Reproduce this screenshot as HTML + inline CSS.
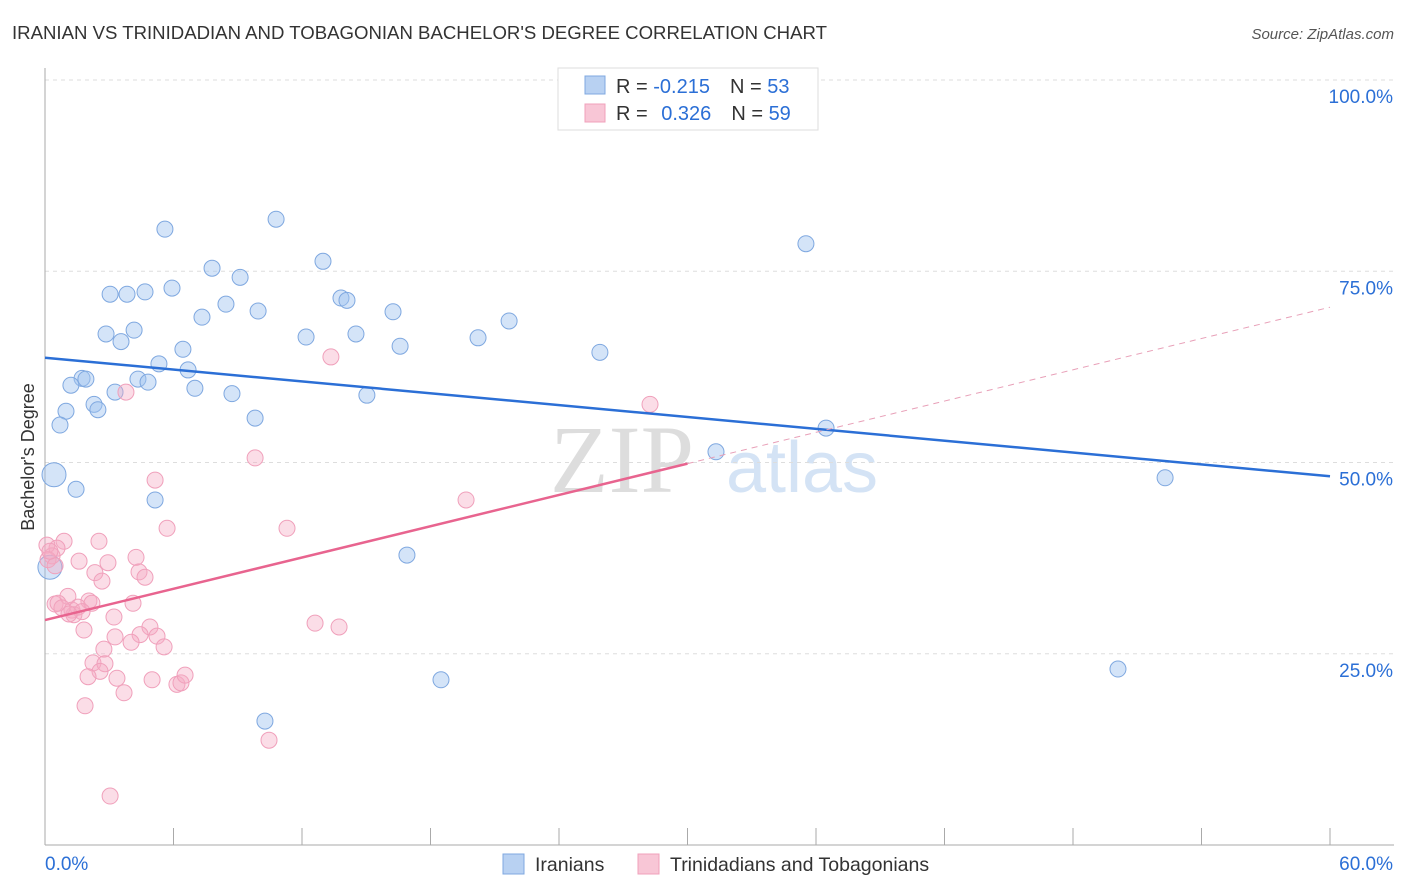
<!DOCTYPE html>
<html><head><meta charset="utf-8"><style>
body{margin:0;background:#fff;font-family:"Liberation Sans",sans-serif;}
svg{display:block}
</style></head><body>
<svg id="chart" width="1406" height="892">
<text x="12" y="39" font-size="18.6" fill="#333">IRANIAN VS TRINIDADIAN AND TOBAGONIAN BACHELOR'S DEGREE CORRELATION CHART</text>
<text x="1394" y="39" font-size="15" fill="#555" font-style="italic" text-anchor="end">Source: ZipAtlas.com</text>
<text x="622" y="492" font-size="96" fill="#ddd" font-family="Liberation Serif,serif" text-anchor="middle">ZIP</text>
<text x="802" y="492" font-size="72" fill="#d4e3f5" text-anchor="middle">atlas</text>
<text transform="translate(34,457) rotate(-90)" font-size="18" fill="#333" text-anchor="middle">Bachelor's Degree</text>
<g id="grid"></g><g id="marks"></g>
<g>
<rect x="558" y="68" width="260" height="62" fill="#fff" stroke="#ddd"/>
<rect x="585" y="76" width="20" height="18" fill="#b8d1f2" stroke="#7fa8e0"/>
<rect x="585" y="104" width="20" height="18" fill="#f8c6d6" stroke="#f0a0bb"/>
<text x="616" y="93" font-size="20" fill="#333">R = <tspan fill="#2b6fd6">-0.215</tspan><tspan dx="20">N = </tspan><tspan fill="#2b6fd6">53</tspan></text>
<text x="616" y="120" font-size="20" fill="#333">R = <tspan fill="#2b6fd6" dx="8">0.326</tspan><tspan dx="20">N = </tspan><tspan fill="#2b6fd6">59</tspan></text>
</g>
<g>
<rect x="503" y="854" width="21" height="20" fill="#b8d1f2" stroke="#7fa8e0"/>
<text x="535" y="871" font-size="19.5" fill="#333">Iranians</text>
<rect x="638" y="854" width="21" height="20" fill="#f8c6d6" stroke="#f0a0bb"/>
<text x="670" y="871" font-size="19.5" fill="#333">Trinidadians and Tobagonians</text>
</g>
</svg>
<script>
const yTicks=[25,50,75,100];
const xTickLabels=["0.0%","60.0%"];
const blueX=[5.60,10.79,35.53,7.80,9.11,12.98,3.04,3.83,4.67,5.93,8.45,7.33,9.95,13.82,14.10,16.25,21.67,2.85,4.16,3.55,12.19,14.52,16.58,20.22,25.91,6.44,5.32,6.68,1.73,1.91,1.21,4.34,4.81,3.27,7.00,8.73,15.03,2.29,2.47,0.98,0.70,9.81,36.47,31.33,0.42,52.30,1.45,5.14,16.90,0.23,18.49,50.10,10.27];
const blueY=[80.5,81.8,78.6,75.4,74.2,76.3,72.0,72.0,72.3,72.8,70.7,69.0,69.8,71.5,71.2,69.7,68.5,66.8,67.3,65.8,66.4,66.8,65.2,66.3,64.4,64.8,62.9,62.1,61.0,60.9,60.1,60.9,60.5,59.2,59.7,59.0,58.8,57.6,56.9,56.7,54.9,55.8,54.5,51.4,48.4,48.0,46.5,45.1,37.9,36.3,21.6,23.0,16.2];
const pinkX=[28.25,3.78,13.35,9.81,5.14,19.66,5.70,11.30,2.52,0.89,0.56,0.09,0.33,0.14,0.47,1.59,4.25,2.94,2.33,2.66,4.39,4.67,0.47,1.07,1.26,2.05,1.54,2.19,1.35,1.73,4.11,3.22,12.61,13.73,4.90,4.44,3.27,5.23,4.02,5.56,2.75,1.82,2.24,2.80,2.57,2.01,3.36,5.00,6.16,6.35,6.54,3.69,1.87,10.46,3.04,0.61,0.79,1.12,0.23];
const pinkY=[57.6,59.2,63.8,50.6,47.7,45.1,41.4,41.4,39.7,39.7,38.8,39.2,37.8,37.3,36.5,37.1,37.6,36.9,35.6,34.5,35.7,35.0,31.5,32.5,30.7,31.9,31.1,31.6,30.1,30.5,31.6,29.8,29.0,28.5,28.5,27.5,27.2,27.3,26.5,25.9,25.6,28.1,23.8,23.7,22.7,22.0,21.8,21.6,21.0,21.2,22.2,19.9,18.2,13.7,6.4,31.6,31.0,30.2,38.4];
const blueTrend=[63.7,48.2];
const pinkTrend=[29.4,70.3];
const pinkSolidEnd=30;
const X=v=>45+v/60*1285, Y=v=>845-v*7.65;
const NS="http://www.w3.org/2000/svg";
const grid=document.getElementById('grid'), marks=document.getElementById('marks');
function mk(tag,attrs,parent){const e=document.createElementNS(NS,tag);for(const k in attrs)e.setAttribute(k,attrs[k]);parent.appendChild(e);return e;}
yTicks.forEach(t=>{
 const l=mk('line',{x1:45,x2:1394,y1:Y(t),y2:Y(t),stroke:'#ddd','stroke-dasharray':'4,4'},grid);
 
 
 const tx=mk('text',{x:1393,y:Y(t)+23,'font-size':19,fill:'#2b6fd6','text-anchor':'end'},grid);
 tx.textContent=t.toFixed(1)+'%';
 
 
});
mk('line',{x1:45,x2:45,y1:68,y2:845,stroke:'#aaa'},grid);
mk('line',{x1:45,x2:1394,y1:845,y2:845,stroke:'#aaa'},grid);
for(let i=0;i<=10;i++){mk('line',{x1:X(i*6),x2:X(i*6),y1:828,y2:845,stroke:'#aaa'},grid);}
const xl0=mk('text',{x:45,y:870,'font-size':19,fill:'#2b6fd6'},grid);xl0.textContent=xTickLabels[0];


const xl1=mk('text',{x:1393,y:870,'font-size':19,fill:'#2b6fd6','text-anchor':'end'},grid);xl1.textContent=xTickLabels[1];


blueX.forEach((v,i)=>{const big=(i==44||i==49);
 const c=mk('circle',{cx:X(v),cy:Y(blueY[i]),r:big?12:8,fill:'rgba(160,195,240,0.45)',stroke:'#7fa8e0','stroke-width':1},marks);
 
 });
pinkX.forEach((v,i)=>{
 const c=mk('circle',{cx:X(v),cy:Y(pinkY[i]),r:8,fill:'rgba(245,170,195,0.4)',stroke:'#f0a0bb','stroke-width':1},marks);
 
 });
const bt=mk('line',{x1:X(0),y1:Y(blueTrend[0]),x2:X(60),y2:Y(blueTrend[1]),stroke:'#2b6fd6','stroke-width':2.5},marks);


const pm=pinkTrend[0]+(pinkTrend[1]-pinkTrend[0])*pinkSolidEnd/60;
const pt=mk('line',{x1:X(0),y1:Y(pinkTrend[0]),x2:X(pinkSolidEnd),y2:Y(pm),stroke:'#e8648f','stroke-width':2.5},marks);


const pd=mk('line',{x1:X(pinkSolidEnd),y1:Y(pm),x2:X(60),y2:Y(pinkTrend[1]),stroke:'#e8a0b8','stroke-width':1,'stroke-dasharray':'6,5'},marks);


</script>
</body></html>
